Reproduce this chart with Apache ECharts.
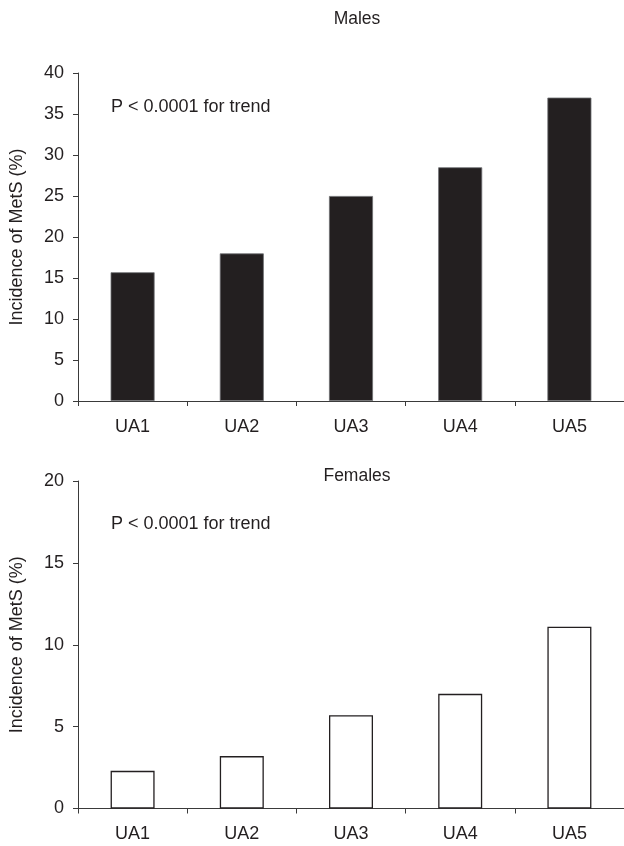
<!DOCTYPE html>
<html>
<head>
<meta charset="utf-8">
<script src="https://cdn.jsdelivr.net/npm/echarts@6/dist/echarts.min.js"></script>
<style>
html,body{margin:0;padding:0;background:#fff;}
#chart{width:624px;height:846px;}
</style>
</head>
<body>
<div id="chart"></div>
<script>
const categories = ['UA1', 'UA2', 'UA3', 'UA4', 'UA5'];
const malesValues = [15.7, 18.0, 25.0, 28.5, 37.0];
const femalesValues = [2.3, 3.2, 5.7, 7.0, 11.1];
const malesTicks = { min: 0, max: 40, interval: 5 };
const femalesTicks = { min: 0, max: 20, interval: 5 };
const yAxisName = 'Incidence of MetS (%)';
const trendNote = 'P < 0.0001 for trend';
const panelTitles = ['Males', 'Females'];

const FONT = 'Liberation Sans, Arial, sans-serif';
const TXT = '#231f20';
const AX = '#3a3a3a';
const FS = 18;

const chart = echarts.init(document.getElementById('chart'), null, { renderer: 'canvas' });

function xAxisCfg(gi) {
  return {
    type: 'category', gridIndex: gi, data: categories,
    axisLine: { lineStyle: { color: AX, width: 1 } },
    axisTick: { show: true, length: 5, lineStyle: { color: AX } },
    axisLabel: { color: TXT, fontFamily: FONT, fontSize: FS, margin: 17 }
  };
}
function yAxisCfg(gi, t) {
  return {
    type: 'value', gridIndex: gi, min: t.min, max: t.max, interval: t.interval,
    name: yAxisName, nameLocation: 'middle', nameGap: 52,
    nameTextStyle: { color: TXT, fontFamily: FONT, fontSize: FS },
    axisLine: { show: true, lineStyle: { color: AX, width: 1 } },
    axisTick: { show: true, length: 5, lineStyle: { color: AX } },
    axisLabel: { color: TXT, fontFamily: FONT, fontSize: FS, margin: 14 },
    splitLine: { show: false }
  };
}

chart.setOption({
  animation: false,
  backgroundColor: '#fff',
  title: [
    { text: panelTitles[0], left: 352, top: 5, textAlign: 'center',
      textStyle: { color: TXT, fontFamily: FONT, fontSize: 17.5, fontWeight: 'normal' } },
    { text: panelTitles[1], left: 352, top: 462, textAlign: 'center',
      textStyle: { color: TXT, fontFamily: FONT, fontSize: 17.5, fontWeight: 'normal' } },
    { text: trendNote, left: 106, top: 93,
      textStyle: { color: TXT, fontFamily: FONT, fontSize: FS, fontWeight: 'normal' } },
    { text: trendNote, left: 106, top: 510,
      textStyle: { color: TXT, fontFamily: FONT, fontSize: FS, fontWeight: 'normal' } }
  ],
  grid: [
    { left: 77.5, top: 73, width: 550, height: 328 },
    { left: 77.5, top: 481, width: 550, height: 327.5 }
  ],
  xAxis: [xAxisCfg(0), xAxisCfg(1)],
  yAxis: [yAxisCfg(0, malesTicks), yAxisCfg(1, femalesTicks)],
  series: [
    { type: 'bar', xAxisIndex: 0, yAxisIndex: 0, data: malesValues, barWidth: 44,
      itemStyle: { color: '#231f20', borderColor: '#6d6e71', borderWidth: 0.8 } },
    { type: 'bar', xAxisIndex: 1, yAxisIndex: 1, data: femalesValues, barWidth: 44,
      itemStyle: { color: '#ffffff', borderColor: '#231f20', borderWidth: 1.3 } }
  ]
});
</script>
</body>
</html>
